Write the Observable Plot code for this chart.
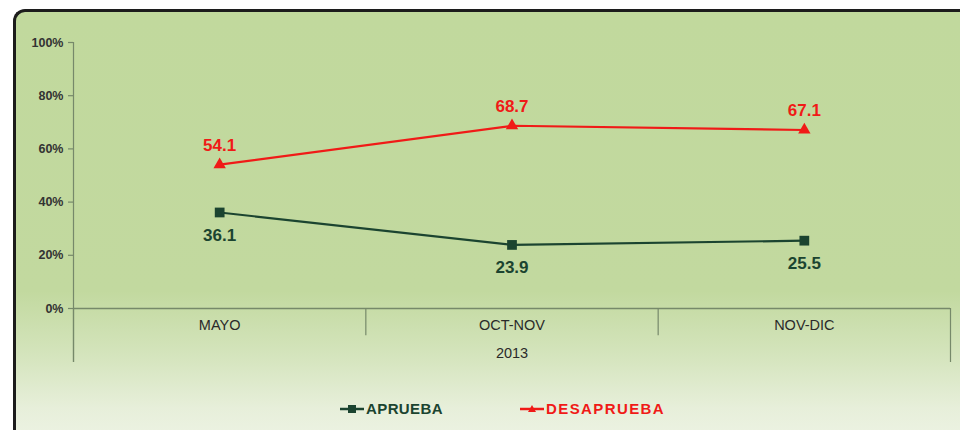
<!DOCTYPE html>
<html>
<head>
<meta charset="utf-8">
<script src="https://cdn.jsdelivr.net/npm/d3@7"></script>
<script src="https://cdn.jsdelivr.net/npm/@observablehq/plot@0.6"></script>
<style>
  html, body { margin: 0; padding: 0; background: #fff; }
  #wrap { position: relative; width: 960px; height: 430px; overflow: hidden; font-family: "Liberation Sans", Arial, sans-serif; }
  #frame { position: absolute; left: 13px; top: 9px; width: 980px; height: 450px;
    border-left: 3px solid #1c1c1c; border-top: 3px solid #1c1c1c; border-top-left-radius: 12px;
    background: linear-gradient(to bottom, #c1d99d 0%, #c2d99f 62%, #d4e4bc 76%, #e7efda 88%, #f1f5ea 100%); }
  #chart { position: absolute; left: 0; top: 0; }
  #legend { position: absolute; top: 400px; left: 0; width: 960px; height: 20px; }
  .item { position: absolute; display: flex; align-items: center; font-weight: bold; font-size: 15px; }
  .item svg { margin-right: 1px; }
</style>
</head>
<body>
<div id="wrap">
  <div id="frame"></div>
  <div id="chart"></div>
  <div id="legend"></div>
</div>
<script>
const categories = ["MAYO", "OCT-NOV", "NOV-DIC"];
const yearLabel = "2013";
const aprueba = [36.1, 23.9, 25.5];
const desaprueba = [54.1, 68.7, 67.1];
const seriesNames = ["APRUEBA", "DESAPRUEBA"];
const seriesColors = ["#1b4430", "#f01a17"];
const yTicks = [0, 20, 40, 60, 80, 100];

const rows = [];
categories.forEach((c, i) => {
  rows.push({series: seriesNames[0], i: i + 0.5, cat: c, value: aprueba[i]});
  rows.push({series: seriesNames[1], i: i + 0.5, cat: c, value: desaprueba[i]});
});
const apr = rows.filter(d => d.series === seriesNames[0]);
const des = rows.filter(d => d.series === seriesNames[1]);
const edges = d3.range(categories.length + 1);
const inner = edges.slice(1, -1);
const outer = [edges[0], edges[edges.length - 1]];
const catRows = categories.map((c, i) => ({cat: c, i: i + 0.5}));
const axisColor = "#76896a";

const plot = Plot.plot({
  width: 960,
  height: 430,
  marginLeft: 73,
  marginRight: 10,
  marginTop: 42,
  marginBottom: 68,
  style: {background: "transparent", fontFamily: "'Liberation Sans', Arial, sans-serif"},
  x: {type: "linear", domain: [0, categories.length], axis: null},
  y: {domain: [-20.3, 100]},
  marks: [
    // y axis line and ticks
    Plot.ruleX([0], {y1: -20.3, y2: 100, stroke: axisColor, strokeWidth: 1.2}),
    Plot.axisY({ticks: yTicks, tickSize: 5, tickFormat: () => "", stroke: axisColor, strokeWidth: 1.2, label: null}),
    Plot.text(yTicks, {x: 0, y: d => d, text: d => d + "%", dx: -10, textAnchor: "end",
      fill: "#333", fontSize: 12.5, fontWeight: "bold"}),
    // x axis baseline and category dividers
    Plot.ruleY([0], {stroke: axisColor, strokeWidth: 1.5}),
    Plot.ruleX(inner, {y1: -10.2, y2: 0, stroke: axisColor, strokeWidth: 1.2}),
    Plot.ruleX(outer, {y1: -20.3, y2: 0, stroke: axisColor, strokeWidth: 1.2}),
    Plot.text(catRows, {x: "i", y: -6.5, text: "cat", fill: "#2a2a2a", fontSize: 14.5}),
    Plot.text([yearLabel], {x: categories.length / 2, y: -16.8, text: d => d, fill: "#2a2a2a", fontSize: 14.5}),
    // lines
    Plot.line(apr, {x: "i", y: "value", stroke: seriesColors[0], strokeWidth: 2.2}),
    Plot.line(des, {x: "i", y: "value", stroke: seriesColors[1], strokeWidth: 2.2}),
    Plot.dot(apr, {x: "i", y: "value", symbol: "square", r: 5.5, fill: seriesColors[0]}),
    Plot.dot(des, {x: "i", y: "value", symbol: "triangle", r: 4.6, fill: seriesColors[1]}),
    Plot.text(apr, {x: "i", y: "value", text: d => d.value.toFixed(1), dy: 23, fill: seriesColors[0],
      fontSize: 17, fontWeight: "bold"}),
    Plot.text(des, {x: "i", y: "value", text: d => d.value.toFixed(1), dy: -19, fill: seriesColors[1],
      fontSize: 17, fontWeight: "bold"})
  ]
});
document.getElementById("chart").appendChild(plot);

// legend
const legend = document.getElementById("legend");
const legendX = [339, 519];
const legendSpacing = ["0.4px", "1.4px"];
seriesNames.forEach((name, k) => {
  const item = document.createElement("div");
  item.className = "item";
  item.style.left = legendX[k] + "px";
  item.style.color = seriesColors[k];
  const ns = "http://www.w3.org/2000/svg";
  const s = document.createElementNS(ns, "svg");
  s.setAttribute("width", 26); s.setAttribute("height", 16);
  const ln = document.createElementNS(ns, "line");
  ln.setAttribute("x1", 1); ln.setAttribute("x2", 25); ln.setAttribute("y1", 8); ln.setAttribute("y2", 8);
  ln.setAttribute("stroke", seriesColors[k]); ln.setAttribute("stroke-width", 2.5);
  s.appendChild(ln);
  if (k === 0) {
    const r = document.createElementNS(ns, "rect");
    r.setAttribute("x", 9); r.setAttribute("y", 4); r.setAttribute("width", 8); r.setAttribute("height", 8);
    r.setAttribute("fill", seriesColors[k]);
    s.appendChild(r);
  } else {
    const p = document.createElementNS(ns, "polygon");
    p.setAttribute("points", "13,4 17,11 9,11");
    p.setAttribute("fill", seriesColors[k]);
    s.appendChild(p);
  }
  item.appendChild(s);
  const t = document.createElement("span");
  t.textContent = name;
  t.style.letterSpacing = legendSpacing[k];
  item.appendChild(t);
  legend.appendChild(item);
});
</script>
</body>
</html>
